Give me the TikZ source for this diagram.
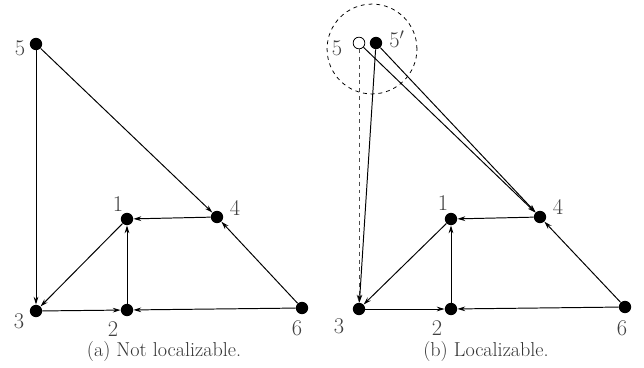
\documentclass[tikz,border=0pt]{standalone}
\usetikzlibrary{arrows.meta}
\tikzset{
  >={Stealth[length=6pt,width=3.6pt]},
  vtx/.style={circle,fill=black,inner sep=0pt,minimum size=9.5pt},
  ghost/.style={circle,draw=black,fill=white,inner sep=0pt,minimum size=9pt,line width=0.6pt},
  lbl/.style={font=\LARGE,text=black!75,inner sep=0pt},
  edge/.style={->,line width=0.75pt},
  captxt/.style={font=\fontsize{15.5}{18}\selectfont,text=black!80,inner sep=0pt}
}
\begin{document}
\begin{tikzpicture}[x=0.77pt,y=-0.77pt]
  \useasboundingbox (0,0) rectangle (644,367);
  % (a) not localizable
  \node[vtx] (a5) at (36,44) {};
  \node[vtx] (a3) at (36,311) {};
  \node[vtx] (a2) at (127,310) {};
  \node[vtx] (a1) at (127,219) {};
  \node[vtx] (a4) at (217,217) {};
  \node[vtx] (a6) at (302,308) {};
  \node[lbl] (la5) at (20,48) {5};
  \node[lbl] (la3) at (19,321) {3};
  \node[lbl] (la2) at (113,329) {2};
  \node[lbl] (la1) at (118,204) {1};
  \node[lbl] (la4) at (235,208) {4};
  \node[lbl] (la6) at (297,328) {6};
  \draw[edge] (a5) -- (a3);
  \draw[edge] (a5) -- (a4);
  \draw[edge] (a4) -- (a1);
  \draw[edge] (a1) -- (a3);
  \draw[edge] (a3) -- (a2);
  \draw[edge] (a2) -- (a1);
  \draw[edge] (a6) -- (a2);
  \draw[edge] (a6) -- (a4);
  \node[captxt] (capa) at (164,351) {(a) Not localizable.};

  % (b) localizable
  \node[ghost] (b5) at (359,43) {};
  \node[vtx] (b5p) at (376,43) {};
  \node[vtx] (b3) at (359,309) {};
  \node[vtx] (b2) at (451,309) {};
  \node[vtx] (b1) at (451,219) {};
  \node[vtx] (b4) at (540,217) {};
  \node[vtx] (b6) at (625,307) {};
  \draw[dashed,line width=0.6pt] (372,49) circle [radius=34.6pt];
  \node[lbl] (lb5) at (337,48) {5};
  \node[lbl] (lb5p) at (397,39) {5$'$};
  \node[lbl] (lb3) at (339,326) {3};
  \node[lbl] (lb2) at (437,328) {2};
  \node[lbl] (lb1) at (443,203) {1};
  \node[lbl] (lb4) at (558,207) {4};
  \node[lbl] (lb6) at (622,328) {6};
  \draw[edge,dashed,black!70] (b5) -- (b3);
  \draw[edge] (b5p) -- (b3);
  \draw[edge] (b5) -- (b4);
  \draw[edge] (b5p) -- (b4);
  \draw[edge] (b4) -- (b1);
  \draw[edge] (b1) -- (b3);
  \draw[edge] (b3) -- (b2);
  \draw[edge] (b2) -- (b1);
  \draw[edge] (b6) -- (b2);
  \draw[edge] (b6) -- (b4);
  \node[captxt] (capb) at (486,351) {(b) Localizable.};
\end{tikzpicture}
\end{document}
